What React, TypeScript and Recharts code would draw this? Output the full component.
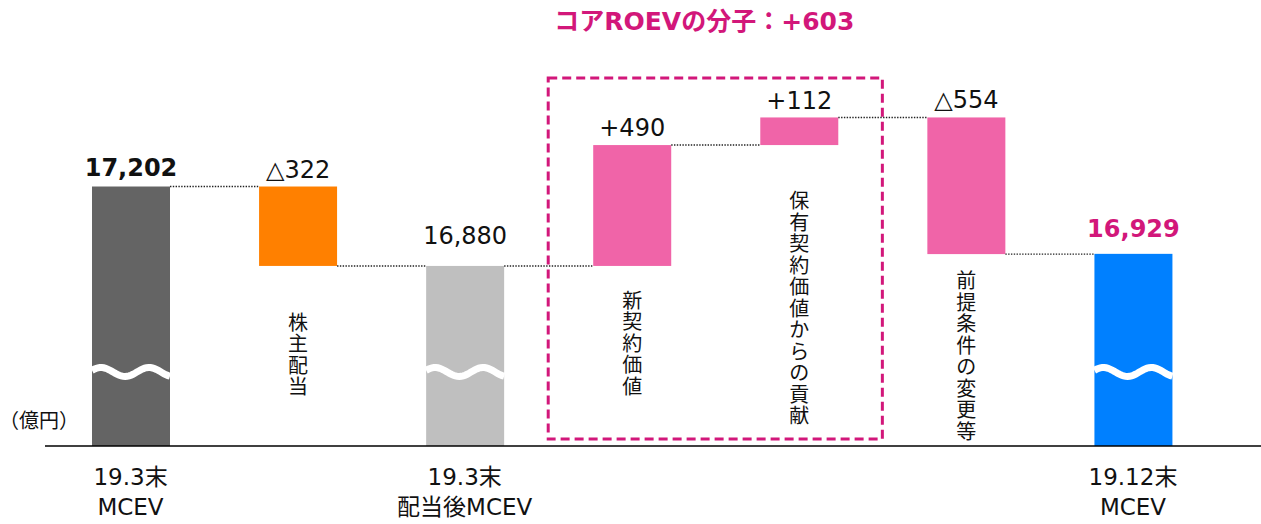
import React from 'react';
import { BarChart, Bar, XAxis, YAxis, LabelList, ReferenceArea, Label, Customized } from 'recharts';

// ---- data ----
const categories = ['19.3末MCEV', '株主配当', '19.3末配当後MCEV', '新契約価値', '保有契約価値からの貢献', '前提条件の変更等', '19.12末MCEV'];
const tickLines: string[][] = [['19.3末', 'MCEV'], [], ['19.3末', '配当後MCEV'], [], [], [], ['19.12末', 'MCEV']];
const stepLabels = ['', '株主配当', '', '新契約価値', '保有契約価値からの貢献', '前提条件の変更等', ''];
const values = [17202, -322, 16880, 490, 112, -554, 16929];
const valueLabels = ['17,202', '△322', '16,880', '+490', '+112', '△554', '16,929'];
const isTotal = [true, false, true, false, false, false, true];
const titleText = 'コアROEVの分子：+603';
const unitText = '（億円）';
const axisMin = 16150;
const axisMax = 17650;
const boxRange = [16178, 17642];

// ---- styles ----
const colors = ['#646464', '#FF8000', '#BFBFBF', '#F064A8', '#F064A8', '#F064A8', '#0080FF'];
const MAGENTA = '#D2177A';
const FONT = "'DejaVu Sans', 'Noto Sans CJK JP', sans-serif";
const CJK = "'Noto Sans CJK JP', sans-serif";
const W = 1261;
const H = 524;
const MARGIN = { top: 76, right: 0, bottom: 8, left: 45 };
const X_AXIS_H = 70;
const PAD = { left: 2, right: 44.5 };
const STEP = (W - MARGIN.left - MARGIN.right - PAD.left - PAD.right) / categories.length;
const BAR = 78;
const labelGap = [11, 9, 22, 9, 8, 9, 17];
const vLabelGap = [0, 46, 0, 24, 45, 16, 0];
const V_PITCH = 21.5;
const V_SIZE = 20;

type Row = { name: string; range: [number, number]; endTop: boolean; label: string; idx: number };

const data: Row[] = (() => {
  let run = 0;
  return categories.map((name, i) => {
    if (isTotal[i]) {
      run = values[i];
      return { name, range: [axisMin, values[i]] as [number, number], endTop: true, label: valueLabels[i], idx: i };
    }
    const start = run;
    run += values[i];
    return {
      name,
      range: [Math.min(start, run), Math.max(start, run)] as [number, number],
      endTop: values[i] > 0,
      label: valueLabels[i],
      idx: i,
    };
  });
})();

function wavePath(x0: number, w: number, yc: number) {
  const pts: string[] = [];
  for (let k = 0; k <= 40; k++) {
    const x = x0 + (w * k) / 40;
    const y = yc - 4.5 * Math.cos((2 * Math.PI * (x - x0 - 9)) / 48);
    pts.push(`${k === 0 ? 'M' : 'L'}${x.toFixed(2)},${y.toFixed(2)}`);
  }
  return pts.join(' ');
}

function BarShape(props: any) {
  const { x, y, width, height, index } = props;
  const row: Row = data[index];
  const top = Math.min(y, y + height);
  const h = Math.abs(height);
  const bottom = top + h;
  const endY = row.endTop ? top : bottom;
  const chars = Array.from(stepLabels[index] || '');
  const cx = x + width / 2;
  return (
    <g>
      <rect x={x} y={top} width={width} height={h} fill={colors[index]} />
      {isTotal[index] && (
        <path d={wavePath(x, width, bottom - 74)} stroke="#FFFFFF" strokeWidth={7} fill="none" />
      )}
      {index < categories.length - 1 && (
        <line
          x1={x + width}
          y1={endY}
          x2={x + STEP}
          y2={endY}
          stroke="#222"
          strokeWidth={1.4}
          strokeDasharray="1.4 1.4"
        />
      )}
      {chars.map((c, k) => (
        <text
          key={k}
          x={cx}
          y={bottom + vLabelGap[index] + k * V_PITCH + 18}
          textAnchor="middle"
          fontFamily={CJK}
          fontSize={V_SIZE}
          fill="#111"
        >
          {c}
        </text>
      ))}
    </g>
  );
}

function ValueLabel(props: any) {
  const { x, y, width, height, index, value } = props;
  const top = Math.min(y, y + height);
  const bold = index === 0 || index === 6;
  return (
    <text
      x={x + width / 2}
      y={top - labelGap[index]}
      textAnchor="middle"
      fontFamily={FONT}
      fontSize={24}
      fontWeight={bold ? 700 : 400}
      fill={index === 6 ? MAGENTA : '#111'}
    >
      {value}
    </text>
  );
}

function Tick(props: any) {
  const { x, y, payload } = props;
  const lines = tickLines[payload.index] || [];
  return (
    <g>
      {lines.map((t, k) => (
        <text key={k} x={x} y={y + 39 + k * 30} textAnchor="middle" fontFamily={FONT} fontSize={23} fill="#111">
          {t}
        </text>
      ))}
    </g>
  );
}

function TitleLabel(props: any) {
  const vb = props.viewBox || {};
  return (
    <text
      x={vb.x + vb.width / 2 - 11}
      y={vb.y - 48}
      textAnchor="middle"
      fontFamily={FONT}
      fontSize={25}
      fontWeight={700}
      fill={MAGENTA}
    >
      {titleText}
    </text>
  );
}

function UnitLabel() {
  return (
    <text x={-1} y={428} fontFamily={CJK} fontSize={20} fill="#111">
      {unitText}
    </text>
  );
}

export default function App() {
  return (
    <div style={{ position: 'absolute', left: 0, top: 0, width: W, height: H, background: '#fff' }}>
      <BarChart width={W} height={H} data={data} margin={MARGIN} barSize={BAR}>
        <YAxis hide type="number" domain={[axisMin, axisMax]} allowDataOverflow />
        <XAxis
          dataKey="name"
          height={X_AXIS_H}
          padding={PAD}
          tickLine={false}
          tickSize={0}
          tickMargin={0}
          interval={0}
          axisLine={{ stroke: '#000', strokeWidth: 1.5 }}
          tick={<Tick />}
        />
        <ReferenceArea
          x1={categories[3]}
          x2={categories[4]}
          y1={boxRange[0]}
          y2={boxRange[1]}
          fill="none"
          fillOpacity={0}
          stroke={MAGENTA}
          strokeWidth={3}
          strokeDasharray="9 5"
          ifOverflow="visible"
        >
          <Label content={<TitleLabel />} />
        </ReferenceArea>
        <Bar dataKey="range" isAnimationActive={false} shape={<BarShape />}>
          <LabelList dataKey="label" content={<ValueLabel />} />
        </Bar>
        <Customized component={UnitLabel} />
      </BarChart>
    </div>
  );
}
